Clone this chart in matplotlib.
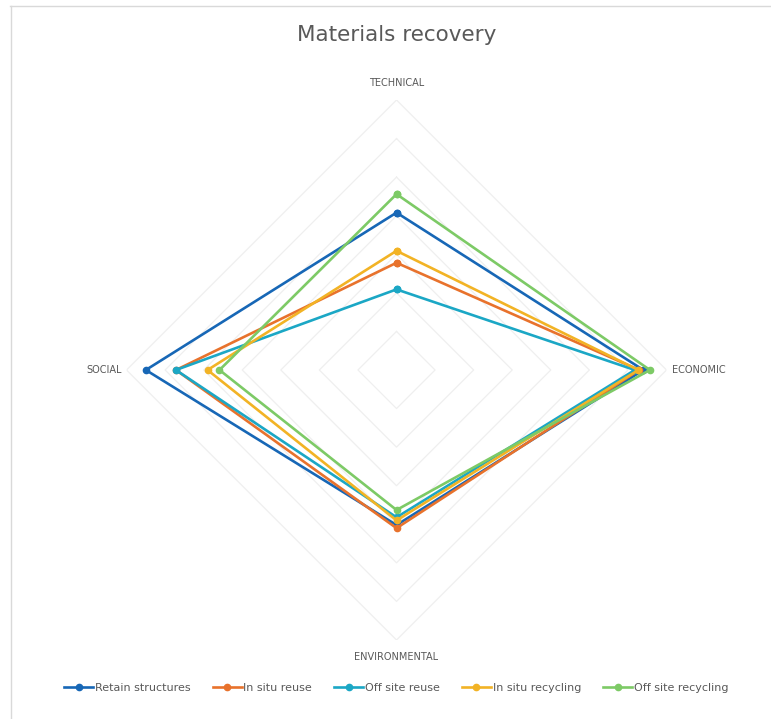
import numpy as np
import matplotlib.pyplot as plt
from matplotlib.lines import Line2D

# axes, clockwise from the top
categories = ['TECHNICAL', 'ECONOMIC', 'ENVIRONMENTAL', 'SOCIAL']

series = ['Retain structures', 'In situ reuse', 'Off site reuse',
          'In situ recycling', 'Off site recycling']
retain_structures = [4.08, 6.40, 4.02, 6.50]
in_situ_reuse = [2.78, 6.29, 4.10, 5.72]
off_site_reuse = [2.09, 6.18, 3.82, 5.72]
in_situ_recycling = [3.09, 6.27, 3.90, 4.90]
off_site_recycling = [4.56, 6.57, 3.63, 4.59]
values = [retain_structures, in_situ_reuse, off_site_reuse,
          in_situ_recycling, off_site_recycling]
colors = ['#1767b6', '#e8722c', '#1ba7c5', '#f2b325', '#7dca66']

rmax = 7

fig = plt.figure(figsize=(7.71, 7.19), dpi=100)
ax = fig.add_axes([0.1641, 0.1099, 0.7004, 0.7510], projection='polar')
ax.set_theta_offset(np.pi / 2)
ax.set_theta_direction(-1)
ax.set_ylim(0, rmax)
ax.grid(False)
ax.spines['polar'].set_visible(False)
ax.set_xticks([])
ax.set_yticks([])
ax.patch.set_alpha(0)

angles = np.linspace(0, 2 * np.pi, len(categories), endpoint=False)
closed = np.append(angles, angles[0])

# diamond grid rings
for k in range(1, rmax + 1):
    ax.plot(closed, [k] * len(closed), color='#efefef', lw=0.9, zorder=1)

for name, vals, c in zip(series, values, colors):
    ax.plot(closed, vals + vals[:1], color=c, lw=1.9, marker='o', ms=4.5,
            label=name, zorder=3)

# category labels
label_r = [7.45, 7.13, 7.45, 7.13]
aligns = [('center', 'center'), ('left', 'center'),
          ('center', 'center'), ('right', 'center')]
for a, lab, r, (ha, va) in zip(angles, categories, label_r, aligns):
    ax.text(a, r, lab, ha=ha, va=va, fontsize=7, color='#595959')

fig.text(0.514, 0.951, 'Materials recovery', ha='center', va='center',
         fontsize=15.5, color='#595959')

leg = fig.legend(loc='center', bbox_to_anchor=(0.514, 0.043), ncol=5,
                 frameon=False, fontsize=8, handlelength=2.6,
                 columnspacing=2.0, handletextpad=0.15)
for t in leg.get_texts():
    t.set_color('#595959')

# frame of the chart area
fig.add_artist(Line2D([10 / 771, 1], [1 - 6 / 719, 1 - 6 / 719],
                      color='#d9d9d9', lw=1))
fig.add_artist(Line2D([10.5 / 771, 10.5 / 771], [0, 1 - 6 / 719],
                      color='#d9d9d9', lw=1))

fig.savefig('out.png', dpi=100)
